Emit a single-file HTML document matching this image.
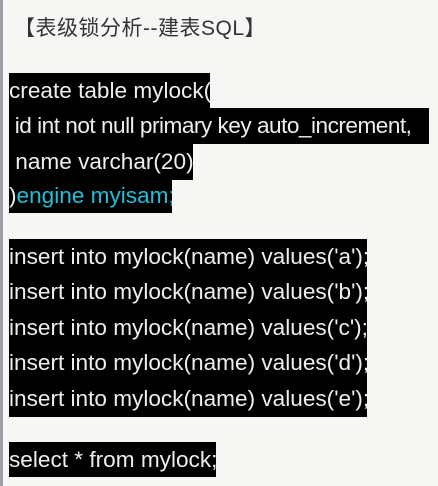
<!DOCTYPE html>
<html><head><style>
body{margin:0;width:438px;height:486px;background:#f6f7f5;position:relative;overflow:hidden;font-family:"Liberation Sans",Arial,sans-serif}
.bl{position:absolute;left:0;top:0;width:3px;height:486px;background:#9aa0a8}
.t{position:absolute;left:14px;top:12px;font-size:21px;color:#333;font-family:"Liberation Sans","Noto Sans CJK SC",sans-serif;letter-spacing:0.5px}
.l{position:absolute;left:9px;background:#000;color:#eee;font-size:22.6px;height:36px;line-height:35px;white-space:nowrap;overflow:hidden;letter-spacing:0px}
.c{color:#1fc0d8}
</style></head><body>
<div class="bl"></div>
<div class="t">【表级锁分析--建表SQL】</div>
<div class="l" style="top:73px;width:201px">create table mylock(</div>
<div class="l" style="top:108px;width:420px;letter-spacing:-0.5px">&nbsp;id int not null primary key auto_increment,</div>
<div class="l" style="top:144px;width:184px">&nbsp;name varchar(20)</div>
<div class="l" style="top:178px;width:163px;height:35px">)<span class="c">engine myisam;</span></div>
<div class="l" style="top:239px;width:358px">insert into mylock(name) values('a');</div>
<div class="l" style="top:274px;width:358px">insert into mylock(name) values('b');</div>
<div class="l" style="top:310px;width:358px">insert into mylock(name) values('c');</div>
<div class="l" style="top:345px;width:358px">insert into mylock(name) values('d');</div>
<div class="l" style="top:381px;width:358px">insert into mylock(name) values('e');</div>
<div class="l" style="top:442px;width:207px;height:35px">select * from mylock;</div>
</body></html>
